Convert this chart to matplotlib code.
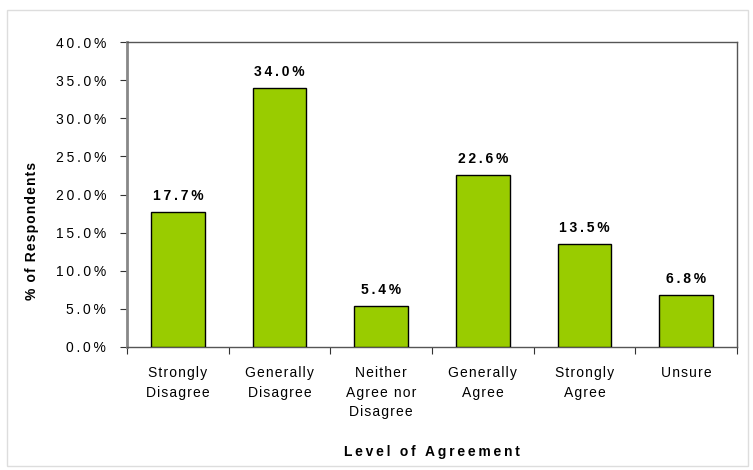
import matplotlib
matplotlib.use("Agg")
import matplotlib.pyplot as plt
from matplotlib.patches import Rectangle
from matplotlib.ticker import FuncFormatter, MultipleLocator

categories = ["Strongly\nDisagree", "Generally\nDisagree", "Neither\nAgree nor\nDisagree",
              "Generally\nAgree", "Strongly\nAgree", "Unsure"]
values = [17.7, 34.0, 5.4, 22.6, 13.5, 6.8]

plt.rcParams['font.family'] = ['Liberation Sans', 'DejaVu Sans']

TS = "\u2009"
HS = "\u200a"


def spaced(s, sep=TS):
    return "\n".join(sep.join(line) for line in s.split("\n"))


fig = plt.figure(figsize=(7.53, 4.70), dpi=100)
fig.patches.append(Rectangle((7/753, 1 - 466/470), 741/753, 456/470, transform=fig.transFigure,
                             fill=False, edgecolor='#dddddd', linewidth=1))
ax = fig.add_axes([127/753, 1 - 347/470, 610/753, 305/470])

x = list(range(len(categories)))
ax.bar(x, values, width=0.53, color='#99cc00', edgecolor='black', linewidth=1, zorder=3)
for xi, v in zip(x, values):
    ax.text(xi, v + 1.2, spaced(f"{v:.1f}%"), ha='center', va='bottom', fontsize=10, fontweight='bold')

ax.set_xlim(-0.5, len(categories) - 0.5)
ax.set_ylim(0, 40)
ax.yaxis.set_major_locator(MultipleLocator(5))
ax.yaxis.set_major_formatter(FuncFormatter(lambda v, p: spaced(f"{v:.1f}%")))
ax.set_xticks([i + 0.5 for i in range(-1, len(categories))])
ax.set_xticklabels([])
ax.set_xticks(x, minor=True)
ax.set_xticklabels([spaced(c, HS) for c in categories], minor=True, fontsize=10, linespacing=1.5)
ax.tick_params(axis='x', which='minor', length=0, pad=14)
ax.tick_params(axis='x', which='major', length=5, direction='out', color='#333333')
ax.tick_params(axis='y', length=5, direction='out', labelsize=10, pad=10, color='#333333')
for s in ax.spines.values():
    s.set_color('#555555')
    s.set_linewidth(1)
ax.spines['left'].set_linewidth(2)
ax.spines['left'].set_color('#888888')

ax.set_xlabel(spaced("Level of Agreement"), fontsize=10, fontweight='bold')
ax.set_ylabel(spaced("% of Respondents", HS), fontsize=10, fontweight='bold')
ax.xaxis.set_label_coords(0.5, -0.32)
ax.yaxis.set_label_coords(-0.145, 0.38)

fig.savefig("out.png", dpi=100)
